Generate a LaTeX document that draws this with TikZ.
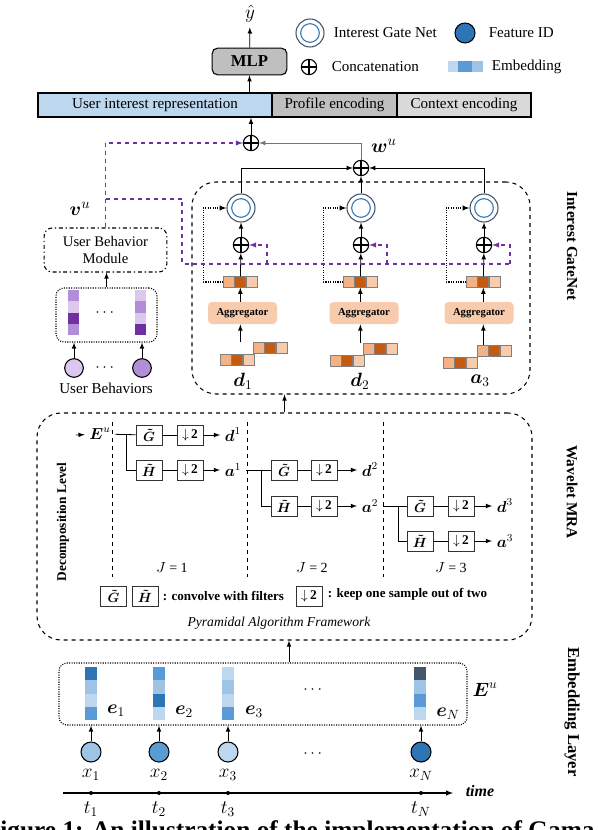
\documentclass[tikz,border=0pt]{standalone}
\usepackage{amsmath, amssymb}
\usepackage{fontspec}
\setmainfont{Liberation Serif}
\usepackage{tikz}
\usetikzlibrary{arrows,positioning,shapes}

\definecolor{blueL}{HTML}{BDD7EE}
\definecolor{blueM}{HTML}{9DC3E6}
\definecolor{blueD}{HTML}{5B9BD5}
\definecolor{blueDD}{HTML}{2E75B6}
\definecolor{slate}{HTML}{44546A}
\definecolor{grayB}{HTML}{BFBFBF}
\definecolor{grayC}{HTML}{D9D9D9}
\definecolor{orL}{HTML}{F4B183}
\definecolor{orD}{HTML}{C55A11}
\definecolor{orLL}{HTML}{F8CBAD}
\definecolor{purD}{HTML}{7030A0}
\definecolor{purM}{HTML}{B28DD8}
\definecolor{purL}{HTML}{DCC8EE}
\definecolor{pline}{HTML}{7030A0}

% three orange cells in a row
\newcommand{\orow}[3]{%
  \node[cell, fill=orL] (#1-1) at (#2,#3) {};
  \node[cell, fill=orD, right=0pt of #1-1] (#1-2) {};
  \node[cell, fill=orLL, right=0pt of #1-2] (#1-3) {};}

\begin{document}
\begin{tikzpicture}[>=latex, x=0.75pt, y=-0.75pt, semithick,
    every node/.style={font=\fontsize{11.3}{13}\selectfont},
    oplus/.style={circle, draw, thick, inner sep=0pt, minimum size=11.5pt,
      path picture={\draw[thick] (path picture bounding box.north) -- (path picture bounding box.south)
        (path picture bounding box.west) -- (path picture bounding box.east);}},
    gate/.style={circle, draw=slate, thick, fill=white, inner sep=0pt, minimum size=21pt,
      path picture={\draw[blueDD, thick] (path picture bounding box.center) circle (7pt);}},
    fid/.style={circle, draw, thick, fill=blueDD, inner sep=0pt, minimum size=15pt},
    mlp/.style={draw, thick, rounded corners=4pt, fill=grayB, minimum width=56pt, minimum height=20pt,
      font=\bfseries\fontsize{12.5}{14}\selectfont},
    bar/.style={draw, line width=1.2pt, minimum height=18pt, inner sep=0pt, font=\fontsize{11.3}{13}\selectfont},
    cell/.style={draw=gray, line width=1pt, minimum size=8.5pt, inner sep=0pt, outer sep=0pt},
    agg/.style={fill=orLL, rounded corners=3pt, minimum width=51.75pt, minimum height=16.5pt,
      font=\bfseries\fontsize{8}{9}\selectfont},
    dashbox/.style={draw, dashed, thick, rounded corners=18pt},
    dotbox/.style={draw, densely dotted, thick, rounded corners=6pt},
    ubm/.style={draw, thick, dash pattern=on 3pt off 2pt on 1pt off 2pt, rounded corners=6pt,
      minimum width=92pt, minimum height=33pt, align=center, font=\fontsize{11}{12.5}\selectfont},
    ubc/.style={circle, draw, thick, inner sep=0pt, minimum size=14pt},
    xc/.style={circle, draw, thick, inner sep=0pt, minimum size=15pt},
    fbox/.style={draw=black!80, semithick, minimum width=19.5pt, minimum height=15pt, inner sep=0pt,
      font=\fontsize{10}{12}\selectfont},
    lab/.style={font=\fontsize{14}{16}\selectfont},
    wlab/.style={font=\fontsize{11.5}{13}\selectfont},
    side/.style={font=\bfseries\fontsize{11.5}{13}\selectfont},
    pflow/.style={draw=pline, dashed, thick},
    ]
\useasboundingbox (0,0) rectangle (598,830);
\clip (0,0) rectangle (598,830);

% output and representation bar
\node[font=\fontsize{15}{16}\selectfont] (yhat) at (250,14) {$\hat{y}$};
\node[mlp] (mlp) at (249.5,61.5) {MLP};
\node[bar, fill=blueL, minimum width=175.5pt] (uir) at (155,105) {User interest representation};
\node[bar, fill=grayB, minimum width=93.75pt] (prof) at (334.5,105) {Profile encoding};
\node[bar, fill=grayC, minimum width=100.5pt] (ctx) at (464,105) {Context encoding};
\draw[->] (mlp.south |- uir.north) -- (mlp.south);
\draw[->] (mlp) -- (yhat);

% legend
\node[gate] (lgate) at (310,33) {};
\node[anchor=west] (lgatet) at (329,33) {Interest Gate Net};
\node[fid] (lfid) at (465,33) {};
\node[anchor=west] (lfidt) at (484,33) {Feature ID};
\node[oplus] (lcat) at (309,67) {};
\node[anchor=west] (lcatt) at (327,67) {Concatenation};
\fill[blueL] (448,61) rectangle (458,72);
\fill[blueD] (458,61) rectangle (472,72);
\fill[blueM] (472,61) rectangle (483,72);
\node[anchor=west] (lembt) at (487,67) {Embedding};

% Interest GateNet
\node[oplus] (cat) at (251,143) {};
\draw[->] (cat) -- (cat |- uir.south);
\node[oplus] (wcat) at (361,168) {};
\node[font=\fontsize{15}{16}\selectfont] (wu) at (384,146) {$\boldsymbol{w}^u$};
\draw[->, draw=black!55] (wcat) |- (cat);
\node[dashbox, minimum width=253.5pt, minimum height=159pt] (ig) at (361,288) {};
\node[side, rotate=-90] (igl) at (572,246) {Interest GateNet};

\foreach \i/\x in {1/241,2/361,3/484} {
  \node[gate] (g\i) at (\x,208) {};
  \node[oplus] (c\i) at (\x,245) {};
  \draw[->] (c\i) -- (g\i);
}
\draw[->] (g1) |- (wcat);
\draw[->] (g3) |- (wcat);
\draw[->] (g2) -- (wcat);

\orow{t1}{229}{282}
\orow{t2}{349}{282}
\orow{t3}{472}{282}
\node[agg] (ag1) at (242.5,313) {Aggregator};
\node[agg] (ag2) at (364,313) {Aggregator};
\node[agg] (ag3) at (479,313) {Aggregator};
\orow{s1}{226}{360} \orow{u1}{259}{348}
\orow{s2}{336}{361} \orow{u2}{369}{349}
\orow{s3}{449}{363} \orow{u3}{483}{351}
\node[font=\tiny, text=gray] (dt1) at (262,357) {$\cdots$};
\node[font=\tiny, text=gray] (dt2) at (361,359) {$\cdots$};
\node[font=\tiny, text=gray] (dt3) at (487,360) {$\cdots$};
\foreach \i in {1,2,3} {
  \draw[->] (t\i-2) -- (c\i);
  \draw[->, densely dotted, thick] (t\i-1.west) -- ++(-20,0) |- (g\i);
  \draw[->] (t\i-2 |- ag\i.north) -- (t\i-2.south);
  \draw[->] (t\i-2 |- u\i-1.north) -- (t\i-2 |- ag\i.south);
}
\node[lab] (ld1) at (243,381) {$\boldsymbol{d}_1$};
\node[lab] (ld2) at (360,381) {$\boldsymbol{d}_2$};
\node[lab] (la3) at (480,381) {$\boldsymbol{a}_3$};

% user behavior module
\node[font=\fontsize{15}{16}\selectfont] (vu) at (80,209) {$\boldsymbol{v}^u$};
\node[ubm] (ubm) at (105.5,250) {User Behavior\\Module};
\node[dotbox, minimum width=75.75pt, minimum height=40.5pt] (bb) at (106.5,315) {};
\draw[->] (bb.north) -- (bb.north |- ubm.south);
\foreach \c [count=\k] in {purM,purL,purD,purM}
  \fill[\c] (68,{290+11.3*(\k-1)}) rectangle ++(11,11.3);
\foreach \c [count=\k] in {purL,purM,purL,purD}
  \fill[\c] (135,{290+11.3*(\k-1)}) rectangle ++(11,11.3);
\node[font=\bfseries\fontsize{13}{14}\selectfont] (bdots) at (106,313) {$\cdots$};
\node[ubc, fill=purL] (ub1) at (74,368) {};
\node[ubc, fill=purM] (ub2) at (142,368) {};
\node[font=\fontsize{13}{14}\selectfont] (ubdots) at (106,368) {$\cdots$};
\draw[->] (ub1) -- (ub1 |- bb.south);
\draw[->] (ub2) -- (ub2 |- bb.south);
\node (ubt) at (106,388) {User Behaviors};

% purple flow of v^u
\coordinate (pj) at (105.5,199);
\coordinate (pb) at (182,264);
\coordinate (q1) at (267,264);
\coordinate (q2) at (387,264);
\coordinate (q3) at (510,264);
\draw[pflow, ->] (ubm) |- (cat);
\draw[pflow] (pj) -| (pb) -- (q3);
\foreach \i in {1,2,3}
  \draw[pflow, ->] (q\i) |- (c\i);

% Wavelet MRA
\node[dashbox, minimum width=371.25pt, minimum height=170.25pt] (wm) at (284.5,526.5) {};
\draw[->] (wm.north) -- (wm.north |- ig.south);
\node[side, rotate=-90] (wml) at (572,492) {Wavelet MRA};
\node[rotate=90, font=\bfseries\fontsize{10}{11}\selectfont] (dec) at (63,522) {Decomposition Level};
\foreach \x in {112,247,383}
  \draw[dashed] (\x,422) -- (\x,577);

\coordinate (ein) at (76,435);
\node[wlab] (eu) at (100,434) {$\boldsymbol{E}^u$};
\draw[->] (ein) -- (eu);
% level 1
\node[fbox] (G1) at (149,435) {$\boldsymbol{\tilde{G}}$};
\node[fbox] (DG1) at (190,435) {$\downarrow$\,\textbf{2}};
\node[wlab] (d1) at (233,435) {$\boldsymbol{d}^1$};
\node[fbox] (H1) at (149,470) {$\boldsymbol{\tilde{H}}$};
\node[fbox] (DH1) at (190,470) {$\downarrow$\,\textbf{2}};
\node[wlab] (a1) at (233,470) {$\boldsymbol{a}^1$};
\coordinate (j1) at (126,435);
\draw (eu) -- (G1);
\draw (j1) |- (H1);
% level 2
\node[fbox] (G2) at (284,470) {$\boldsymbol{\tilde{G}}$};
\node[fbox] (DG2) at (324,470) {$\downarrow$\,\textbf{2}};
\node[wlab] (d2) at (370,470) {$\boldsymbol{d}^2$};
\node[fbox] (H2) at (284,506) {$\boldsymbol{\tilde{H}}$};
\node[fbox] (DH2) at (324,506) {$\downarrow$\,\textbf{2}};
\node[wlab] (a2) at (370,506) {$\boldsymbol{a}^2$};
\coordinate (j2) at (261,470);
\draw (a1) -- (G2);
\draw (j2) |- (H2);
% level 3
\node[fbox] (G3) at (420,506) {$\boldsymbol{\tilde{G}}$};
\node[fbox] (DG3) at (461,506) {$\downarrow$\,\textbf{2}};
\node[wlab] (d3) at (505,506) {$\boldsymbol{d}^3$};
\node[fbox] (H3) at (420,541) {$\boldsymbol{\tilde{H}}$};
\node[fbox] (DH3) at (461,541) {$\downarrow$\,\textbf{2}};
\node[wlab] (a3) at (505,541) {$\boldsymbol{a}^3$};
\coordinate (j3) at (398,506);
\draw (a2) -- (G3);
\draw (j3) |- (H3);
\foreach \n in {1,2,3} {
  \draw (G\n) -- (DG\n);
  \draw (H\n) -- (DH\n);
  \draw[->] (DG\n) -- (d\n);
  \draw[->] (DH\n) -- (a\n);
}
\node[font=\fontsize{10.5}{12}\selectfont] (J1) at (172,568) {$J$ = 1};
\node[font=\fontsize{10.5}{12}\selectfont] (J2) at (312,568) {$J$ = 2};
\node[font=\fontsize{10.5}{12}\selectfont] (J3) at (451,568) {$J$ = 3};
\node[fbox] (lgG) at (113.5,596) {$\boldsymbol{\tilde{G}}$};
\node[fbox] (lgH) at (145,596) {$\boldsymbol{\tilde{H}}$};
\node[anchor=west, font=\bfseries\fontsize{9.8}{11}\selectfont] (lgt1) at (158,596) {: convolve with filters};
\node[fbox] (lgD) at (309,596) {$\downarrow$\,\textbf{2}};
\node[anchor=west, font=\bfseries\fontsize{9.8}{11}\selectfont] (lgt2) at (323,594) {: keep one sample out of two};
\node[font=\itshape\fontsize{10.2}{12}\selectfont] (pyr) at (279,623) {Pyramidal Algorithm Framework};

% Embedding layer
\node[dotbox, minimum width=306pt, minimum height=46.5pt] (eb) at (263,694) {};
\draw[->] ([xshift=19.5pt]eb.north) -- ([xshift=19.5pt]eb.north |- wm.south);
\node[side, rotate=-90, font=\bfseries\fontsize{12.5}{14}\selectfont] (ell) at (572,712) {Embedding Layer};
\foreach \x/\ca/\cb/\cc/\cd in {84.5/blueDD/blueM/blueL/blueD, 152.5/blueD/blueM/blueDD/blueL,
    222/blueL/blueM/blueL/blueD, 414/slate/blueM/blueD/blueL} {
  \fill[\ca] (\x,667) rectangle ++(12,13.25);
  \fill[\cb] (\x,680.25) rectangle ++(12,13.25);
  \fill[\cc] (\x,693.5) rectangle ++(12,13.25);
  \fill[\cd] (\x,706.75) rectangle ++(12,13.25);
}
\node[lab] (e1) at (116,711) {$\boldsymbol{e}_1$};
\node[lab] (e2) at (184,712) {$\boldsymbol{e}_2$};
\node[lab] (e3) at (254,712) {$\boldsymbol{e}_3$};
\node[lab] (eN) at (448,714) {$\boldsymbol{e}_N$};
\node[font=\fontsize{13}{14}\selectfont] (edots) at (314,690) {$\cdots$};
\node[lab] (Eu) at (485,690) {$\boldsymbol{E}^u$};
\foreach \i/\x/\c in {1/91/blueM, 2/159/blueD, 3/228/blueL, N/421/blueDD} {
  \node[xc, fill=\c] (x\i) at (\x,752) {};
  \draw[->] (x\i) -- (x\i |- eb.south);
  \node[lab] (xl\i) at (\x,775) {$x_\i$};
  \fill (\x,793) circle (2);
  \node[lab] (tl\i) at (\x,809) {$t_\i$};
}
\node[font=\fontsize{13}{14}\selectfont] (xdots) at (314,754) {$\cdots$};
\coordinate (ts) at (63,793);
\coordinate (te) at (453,793);
\draw[->, thick] (ts) -- (te);
\node[font=\bfseries\itshape\fontsize{12}{13}\selectfont] (tim) at (480,791) {time};

% caption, cut by the page edge
\node[anchor=base west, inner sep=0pt, font=\bfseries\fontsize{19}{22}\selectfont] (cap) at (-15.5,838)
  {Figure 1: An illustration of the implementation of Gama};
\end{tikzpicture}
\end{document}
